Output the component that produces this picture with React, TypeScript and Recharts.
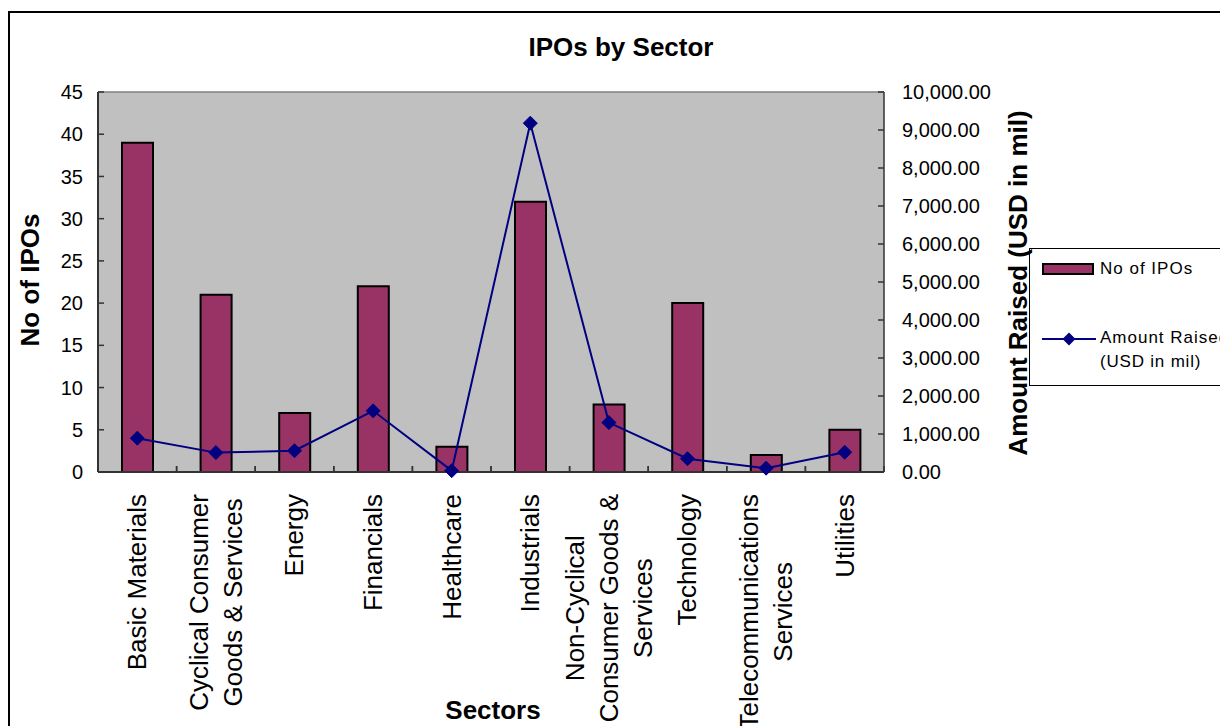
import React from 'react';
import {
  ComposedChart,
  Bar,
  Line,
  XAxis,
  YAxis,
  CartesianGrid,
  Legend,
  ReferenceLine,
} from 'recharts';

const sectors = [
  'Basic Materials',
  'Cyclical Consumer Goods & Services',
  'Energy',
  'Financials',
  'Healthcare',
  'Industrials',
  'Non-Cyclical Consumer Goods & Services',
  'Technology',
  'Telecommunications Services',
  'Utilities',
];

const sectorTickLines = [
  ['Basic Materials'],
  ['Cyclical Consumer', 'Goods & Services'],
  ['Energy'],
  ['Financials'],
  ['Healthcare'],
  ['Industrials'],
  ['Non-Cyclical', 'Consumer Goods &', 'Services'],
  ['Technology'],
  ['Telecommunications', 'Services'],
  ['Utilities'],
];

const ipoCounts = [39, 21, 7, 22, 3, 32, 8, 20, 2, 5];
const amountRaised = [890, 510, 560, 1610, 35, 9180, 1300, 350, 100, 520];

const leftTicks = [0, 5, 10, 15, 20, 25, 30, 35, 40, 45];
const rightTicks = [0, 1000, 2000, 3000, 4000, 5000, 6000, 7000, 8000, 9000, 10000];

const data = sectors.map((s, i) => ({ sector: s, ipos: ipoCounts[i], amount: amountRaised[i] }));

const FONT = '"Liberation Sans", Arial, Helvetica, sans-serif';
const BAR_COLOR = '#993366';
const LINE_COLOR = '#000080';
const AXIS_COLOR = '#333333';
const BAND = (884 - 98) / sectors.length;

let ctx: any = null;
function measure(text: string, size: number): number {
  try {
    if (!ctx) ctx = document.createElement('canvas').getContext('2d');
    ctx.font = `${size}px "Liberation Sans", Arial, sans-serif`;
    return ctx.measureText(text).width;
  } catch (e) {
    return text.length * size * 0.5;
  }
}

const fmtAmount = (v: number) =>
  v.toLocaleString('en-US', { minimumFractionDigits: 2, maximumFractionDigits: 2 });

const XTick = (props: any) => {
  const { x, y, payload } = props;
  const idx = sectors.indexOf(payload.value);
  const lines = idx >= 0 ? sectorTickLines[idx] : [String(payload.value)];
  const maxW = Math.max(...lines.map((l) => measure(l, 26)));
  const cy = y + 22 + maxW / 2;
  const n = lines.length;
  return (
    <g>
      <line x1={x - BAND / 2} x2={x - BAND / 2} y1={y} y2={y - 6} stroke={AXIS_COLOR} strokeWidth={1.5} />
      <line x1={x + BAND / 2} x2={x + BAND / 2} y1={y} y2={y - 6} stroke={AXIS_COLOR} strokeWidth={1.5} />
      {lines.map((l, i) => {
        const lx = x + (i - (n - 1) / 2) * 34;
        return (
          <text
            key={i}
            x={lx}
            y={cy}
            transform={`rotate(-90 ${lx} ${cy})`}
            textAnchor="middle"
            dominantBaseline="central"
            fontSize={26}
            fontFamily={FONT}
            fill="#000"
          >
            {l}
          </text>
        );
      })}
    </g>
  );
};

const LeftTick = (props: any) => {
  const { x, y, payload } = props;
  return (
    <g>
      <line x1={x} x2={x + 6} y1={y} y2={y} stroke={AXIS_COLOR} strokeWidth={1.5} />
      <text x={x - 15} y={y} dy="0.355em" textAnchor="end" fontSize={20} fontFamily={FONT} fill="#000">
        {payload.value}
      </text>
    </g>
  );
};

const RightTick = (props: any) => {
  const { x, y, payload } = props;
  return (
    <g>
      <line x1={x} x2={x - 6} y1={y} y2={y} stroke={AXIS_COLOR} strokeWidth={1.5} />
      <text x={x + 18} y={y} dy="0.355em" textAnchor="start" fontSize={20} fontFamily={FONT} fill="#000">
        {fmtAmount(payload.value)}
      </text>
    </g>
  );
};

const diamondPath = (cx: number, cy: number, s: number) =>
  `M${cx},${cy - s} L${cx + s},${cy} L${cx},${cy + s} L${cx - s},${cy} Z`;

const renderDot = (p: any) => {
  const { cx, cy, index } = p;
  if (cx == null || cy == null) return <g key={`d${index}`} />;
  return <path key={`d${index}`} d={diamondPath(cx, cy, 7)} fill={LINE_COLOR} stroke={LINE_COLOR} strokeWidth={1} />;
};

const LegendContent = (props: any) => {
  const payload = props.payload || [];
  const barItem = payload.find((e: any) => e.dataKey === 'ipos');
  const lineItem = payload.find((e: any) => e.dataKey === 'amount');
  const barName = barItem ? String(barItem.value) : 'No of IPOs';
  const lineName = lineItem ? String(lineItem.value) : 'Amount Raised (USD in mil)';
  const split = lineName.indexOf(' (');
  const line1 = split >= 0 ? lineName.slice(0, split) : lineName;
  const line2 = split >= 0 ? lineName.slice(split + 1) : '';
  return (
    <svg width={191} height={140} style={{ display: 'block', overflow: 'hidden' }}>
      <rect x={0.5} y={0.5} width={300} height={137} fill="#fff" stroke="#000" strokeWidth={1} />
      <rect x={14} y={16} width={50} height={10} fill={BAR_COLOR} stroke="#000" strokeWidth={2} />
      <text x={71} y={26} fontSize={17} letterSpacing={1} fontFamily={FONT} fill="#000">
        {barName}
      </text>
      <line x1={13} x2={67} y1={91} y2={91} stroke={LINE_COLOR} strokeWidth={2} />
      <path d={diamondPath(40, 91, 6.5)} fill={LINE_COLOR} />
      <text x={71} y={95} fontSize={17} letterSpacing={1} fontFamily={FONT} fill="#000">
        {line1}
      </text>
      <text x={71} y={119} fontSize={17} letterSpacing={0.8} fontFamily={FONT} fill="#000">
        {line2}
      </text>
    </svg>
  );
};

export default function App() {
  return (
    <div
      style={{
        position: 'absolute',
        left: 0,
        top: 0,
        width: 1220,
        height: 726,
        overflow: 'hidden',
        background: '#fff',
        fontFamily: FONT,
      }}
    >
      <div
        style={{
          position: 'absolute',
          left: 8,
          top: 11,
          width: 1300,
          height: 800,
          border: '2px solid #000',
          boxSizing: 'border-box',
        }}
      />
      <div style={{ position: 'absolute', left: 0, top: 0 }}>
        <ComposedChart
          width={1220}
          height={726}
          data={data}
          margin={{ top: 92, right: 0, bottom: 0, left: 0 }}
        >
          <CartesianGrid yAxisId="left" fill="#C0C0C0" stroke="none" horizontal={false} vertical={false} />
          <XAxis
            dataKey="sector"
            height={254}
            interval={0}
            tickSize={0}
            tickMargin={0}
            tickLine={false}
            tick={<XTick />}
            axisLine={{ stroke: AXIS_COLOR, strokeWidth: 2 }}
          />
          <YAxis
            yAxisId="left"
            orientation="left"
            width={98}
            domain={[0, 45]}
            ticks={leftTicks}
            interval={0}
            tickSize={0}
            tickMargin={0}
            tickLine={false}
            tick={<LeftTick />}
            axisLine={{ stroke: AXIS_COLOR, strokeWidth: 2 }}
          />
          <YAxis
            yAxisId="right"
            orientation="right"
            width={336}
            domain={[0, 10000]}
            ticks={rightTicks}
            interval={0}
            tickSize={0}
            tickMargin={0}
            tickLine={false}
            tick={<RightTick />}
            axisLine={{ stroke: AXIS_COLOR, strokeWidth: 1.5 }}
          />
          <ReferenceLine yAxisId="left" y={45} stroke="#808080" strokeWidth={1.5} />
          <Bar
            yAxisId="left"
            dataKey="ipos"
            name="No of IPOs"
            fill={BAR_COLOR}
            stroke="#000"
            strokeWidth={2}
            barSize={31}
            isAnimationActive={false}
          />
          <Line
            yAxisId="right"
            dataKey="amount"
            name="Amount Raised (USD in mil)"
            type="linear"
            stroke={LINE_COLOR}
            strokeWidth={2}
            dot={renderDot}
            activeDot={false}
            isAnimationActive={false}
          />
          <Legend
            layout="vertical"
            align="center"
            verticalAlign="middle"
            content={<LegendContent />}
            wrapperStyle={{ position: 'absolute', left: 1029, top: 248, width: 191, height: 140, right: 'auto', bottom: 'auto' }}
          />
        </ComposedChart>
      </div>
      <svg
        width={1220}
        height={726}
        style={{ position: 'absolute', left: 0, top: 0, pointerEvents: 'none' }}
      >
        <text x={621} y={56} textAnchor="middle" fontSize={26} fontWeight="bold" fontFamily={FONT} fill="#000">
          IPOs by Sector
        </text>
        <text
          x={30}
          y={280}
          transform="rotate(-90 30 280)"
          textAnchor="middle"
          dominantBaseline="central"
          fontSize={26}
          fontWeight="bold"
          fontFamily={FONT}
          fill="#000"
        >
          No of IPOs
        </text>
        <text
          x={1018}
          y={283}
          transform="rotate(-90 1018 283)"
          textAnchor="middle"
          dominantBaseline="central"
          fontSize={26}
          fontWeight="bold"
          fontFamily={FONT}
          fill="#000"
        >
          Amount Raised (USD in mil)
        </text>
        <text x={493} y={719} textAnchor="middle" fontSize={26} fontWeight="bold" fontFamily={FONT} fill="#000">
          Sectors
        </text>
      </svg>
    </div>
  );
}
